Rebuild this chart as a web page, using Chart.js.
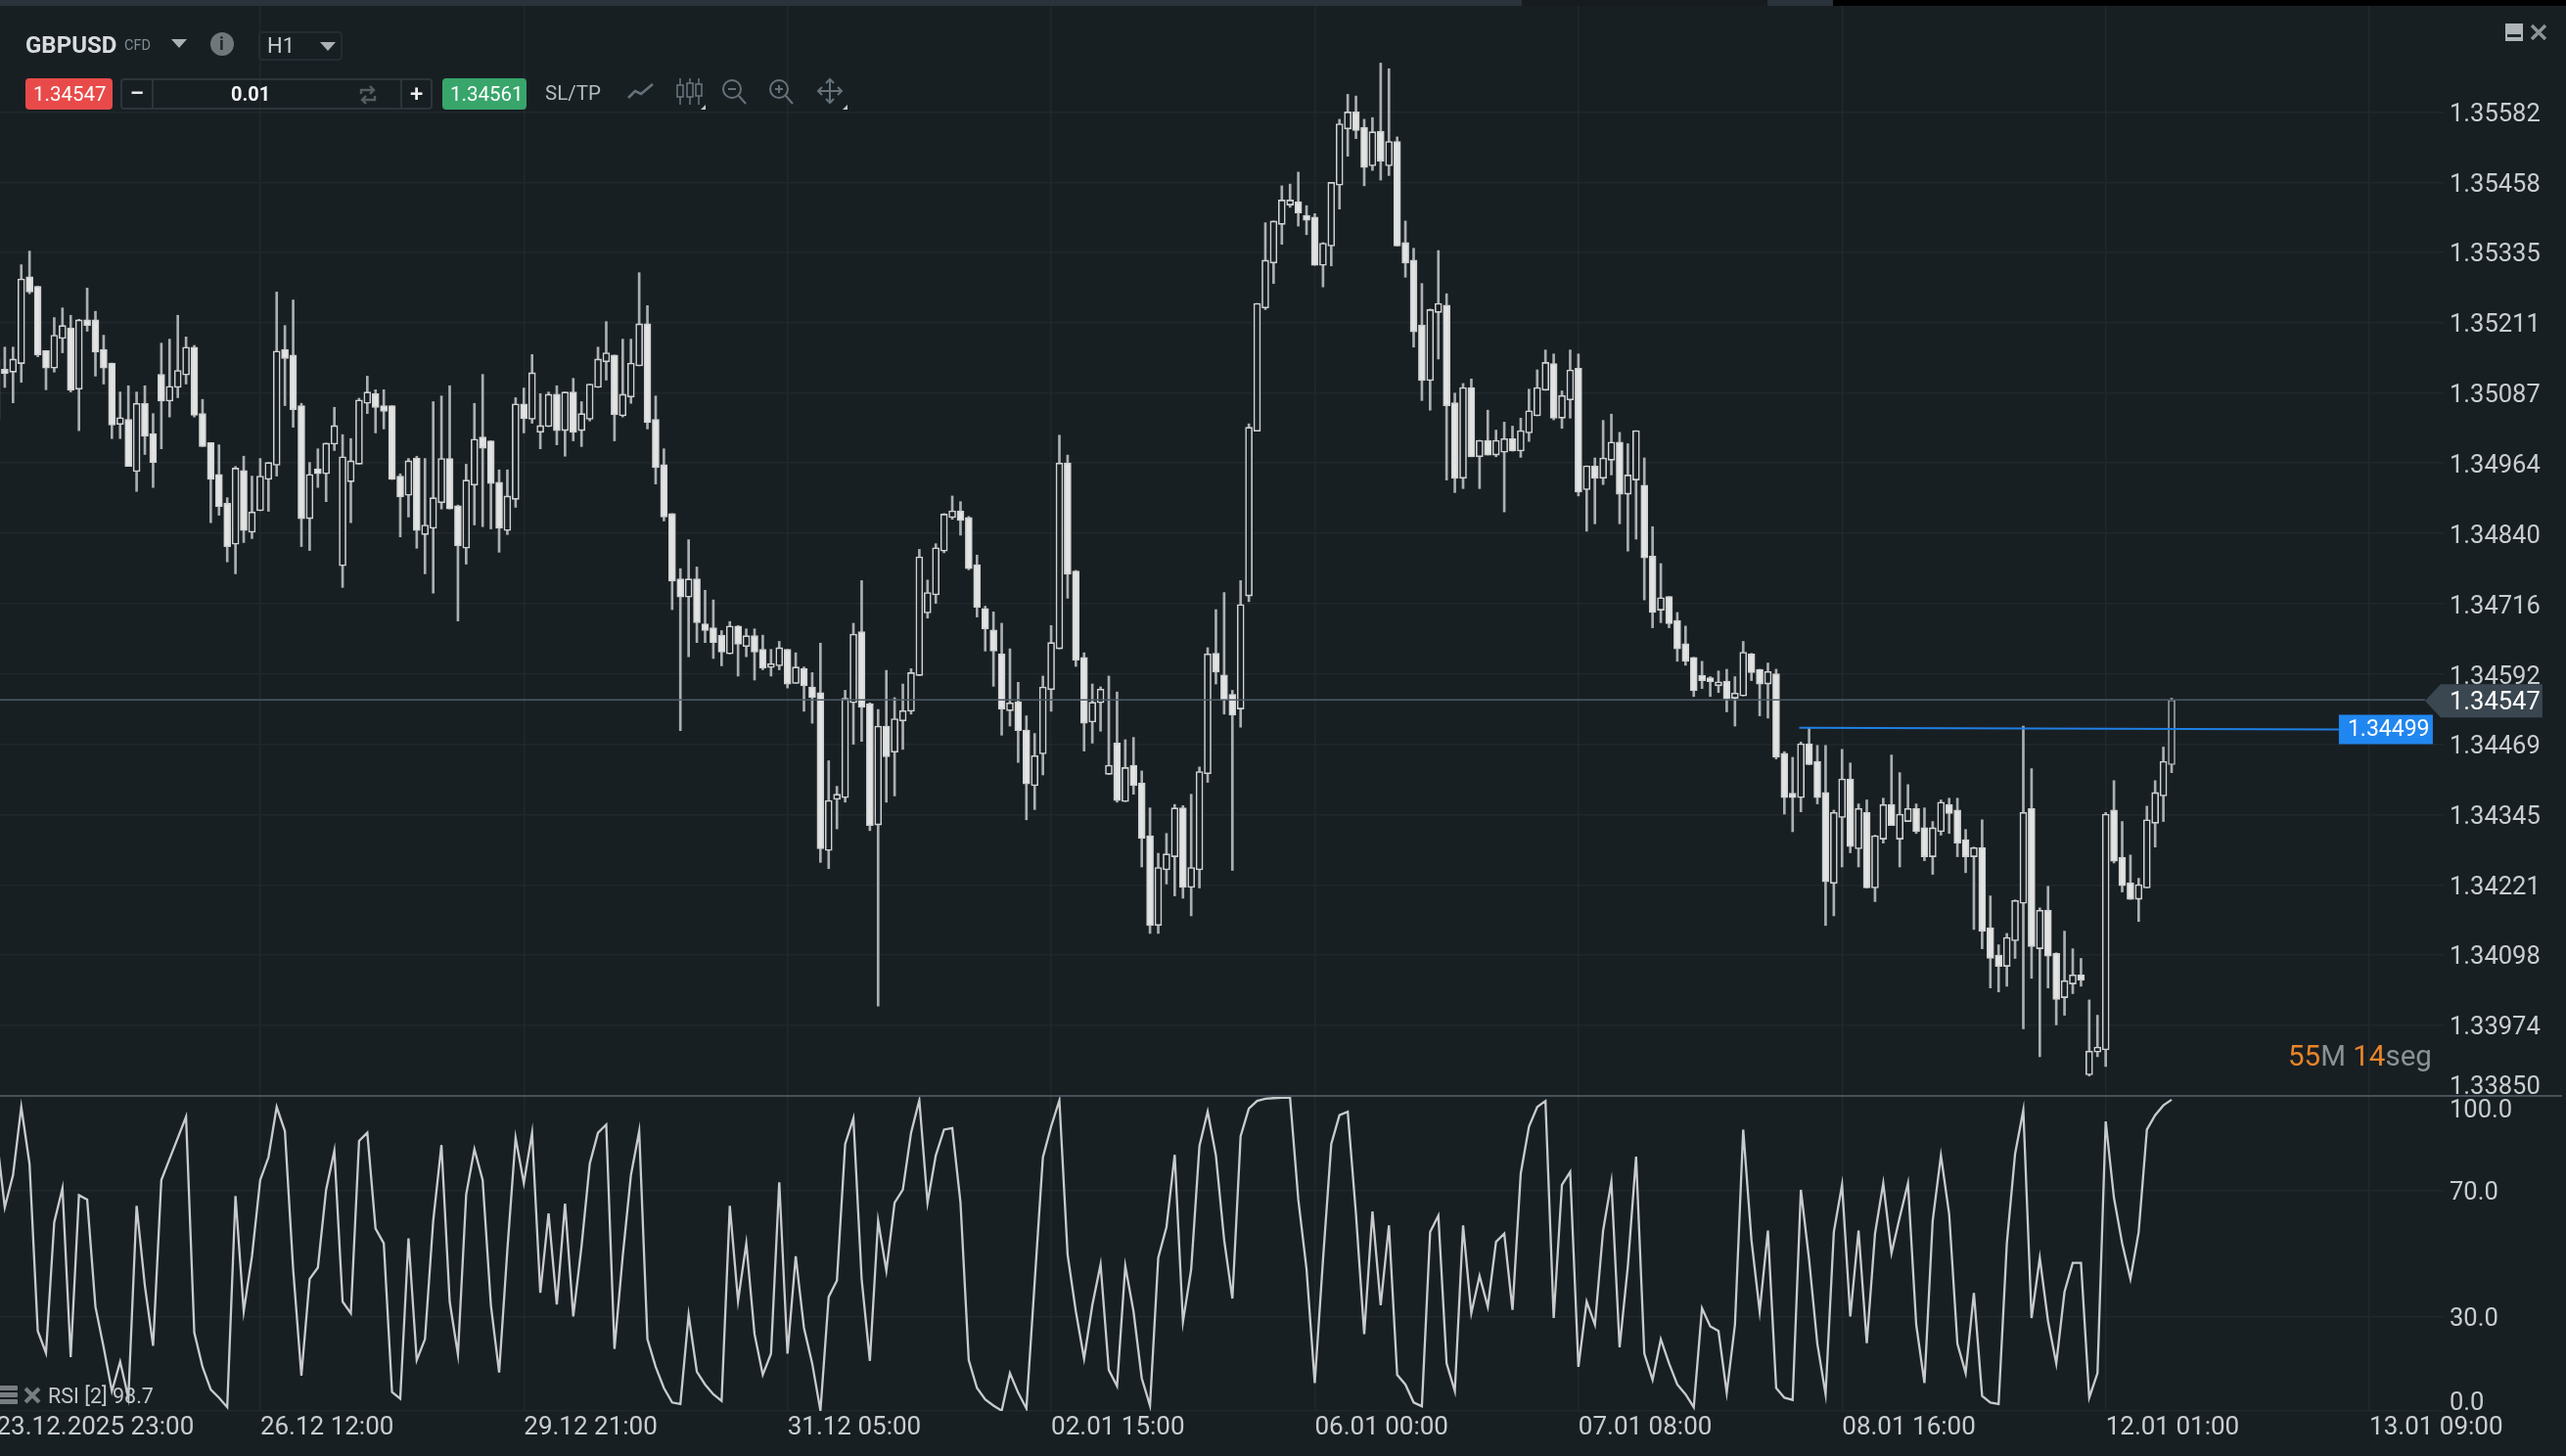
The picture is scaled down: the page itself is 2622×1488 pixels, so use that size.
<!DOCTYPE html>
<html>
<head>
<meta charset="utf-8">
<title>GBPUSD H1</title>
<script src="https://cdn.jsdelivr.net/npm/chart.js"></script>
<style>
    html, body { margin: 0; padding: 0; background: #181f23; width: 2622px; height: 1488px; overflow: hidden; font-family: Roboto, sans-serif; }
    #chart { position: absolute; left: -10px; top: 0; }
    .box { position: absolute; box-sizing: border-box; }
    .txt { position: absolute; white-space: nowrap; line-height: 1; }
    .tri { position: absolute; width: 0; height: 0; border-left: 8px solid transparent; border-right: 8px solid transparent; border-top: 9px solid #aab0b4; }
    svg { position: absolute; overflow: visible; }
</style>
</head>
<body>
<canvas id="chart" width="2632" height="1488"></canvas>

<!-- top strip -->
<div class="box" style="left:0;top:0;width:1555px;height:6px;background:#2a323c"></div>
<div class="box" style="left:1555px;top:0;width:251px;height:6px;background:#151b1f"></div>
<div class="box" style="left:1806px;top:0;width:67px;height:6px;background:#2a323c"></div>
<div class="box" style="left:1873px;top:0;width:749px;height:6px;background:#000"></div>

<!-- symbol row -->
<div class="txt" style="left:26px;top:34px;font-size:24px;font-weight:700;color:#d8dcde">GBPUSD</div>
<div class="txt" style="left:127px;top:40px;font-size:14.5px;color:#7f8c93">CFD</div>
<div class="tri" style="left:175px;top:40px"></div>
<div class="box" style="left:215px;top:33px;width:24px;height:24px;border-radius:12px;background:#70777b"></div>
<div class="txt" style="left:224px;top:36px;font-size:18px;font-weight:700;color:#20272b">i</div>
<div class="box" style="left:264px;top:32px;width:86px;height:30px;border:2px solid #242c32;border-radius:4px"></div>
<div class="txt" style="left:273px;top:36px;font-size:22px;color:#c8cccf">H1</div>
<div class="tri" style="left:327px;top:43px"></div>

<!-- order row -->
<div class="box" style="left:26px;top:80px;width:89px;height:32px;background:#e84a4a;border-radius:4px"></div>
<div class="txt" style="left:34px;top:86px;font-size:20.5px;color:#fff">1.34547</div>
<div class="box" style="left:123px;top:80px;width:319px;height:32px;border:2px solid #2c353b;border-radius:4px"></div>
<div class="box" style="left:155px;top:80px;width:2px;height:32px;background:#2c353b"></div>
<div class="box" style="left:409px;top:80px;width:2px;height:32px;background:#2c353b"></div>
<div class="txt" style="left:133px;top:85px;font-size:22px;font-weight:700;color:#e6e8e9">&#8211;</div>
<div class="txt" style="left:236px;top:86px;font-size:20px;font-weight:700;color:#f1f2f3">0.01</div>
<svg style="left:366px;top:85px" width="20" height="24" viewBox="0 0 20 24" fill="none" stroke="#555d62" stroke-width="2.4">
    <path d="M3 11V7h13M12 3l4 4-4 4M17 13v4H4M8 13l-4 4 4 4"/>
</svg>
<div class="txt" style="left:419px;top:84px;font-size:24px;font-weight:500;color:#eef0f1">+</div>
<div class="box" style="left:452px;top:80px;width:86px;height:32px;background:#38a56b;border-radius:4px"></div>
<div class="txt" style="left:460px;top:86px;font-size:20.5px;color:#fff">1.34561</div>
<div class="txt" style="left:557px;top:85px;font-size:20.5px;color:#b4babd">SL/TP</div>

<svg style="left:640px;top:80px" width="240" height="36" viewBox="0 0 240 36" fill="none" stroke="#66727a" stroke-width="2">
    <path d="M2 20l7-7 6 3 12-10" stroke-width="2.6"/>
    <path d="M55 0v7M55 19v8M65 0v5M65 19v8M74 0v6M74 18v9" stroke-width="1.6"/>
    <rect x="52" y="7" width="6" height="12" stroke-width="1.6"/><rect x="62" y="5" width="6" height="14" stroke-width="1.6"/><rect x="71" y="6" width="6" height="12" stroke-width="1.6"/>
    <circle cx="108" cy="11" r="9"/><path d="M104 11h8M115 18l7 8"/>
    <circle cx="156" cy="11" r="9"/><path d="M152 11h8M156 7v8M163 18l7 8"/>
    <path d="M208 1v24M196 13h24M204 5l4-4 4 4M204 21l4 4 4-4M200 9l-4 4 4 4M216 9l4 4-4 4"/>
    <path d="M81 32l-5 0 5-5z" fill="#c2c7ca" stroke="none"/>
    <path d="M226 32l-5 0 5-5z" fill="#c2c7ca" stroke="none"/>
</svg>

<!-- window buttons -->
<div class="box" style="left:2560px;top:24px;width:18px;height:18px;background:#aeb4b8"></div>
<div class="box" style="left:2562px;top:35px;width:14px;height:3px;background:#20272b"></div>
<svg style="left:2586px;top:25px" width="16" height="16" viewBox="0 0 16 16" stroke="#8d9396" stroke-width="3.4">
    <path d="M1 1l14 14M15 1L1 15"/>
</svg>

<!-- countdown -->
<div class="txt" style="left:2338px;top:1065px;font-size:29.5px;color:#8b9296"><span style="color:#e8852a">55</span>M <span style="color:#e8852a">14</span>seg</div>

<!-- RSI pane label -->
<svg style="left:-2px;top:1416px" width="22" height="20" viewBox="0 0 22 20" fill="#777d80">
    <rect x="0" y="0" width="20" height="5" rx="1"/><rect x="0" y="7" width="20" height="5" rx="1"/><rect x="0" y="14" width="20" height="5" rx="1"/>
</svg>
<svg style="left:25px;top:1418px" width="16" height="16" viewBox="0 0 16 16" stroke="#777d80" stroke-width="4">
    <path d="M1 1l14 14M15 1L1 15"/>
</svg>
<div class="txt" style="left:49px;top:1416px;font-size:21.5px;color:#c3c7c9">RSI [2] 98.7</div>

<script>
    // values are in price points (1 point = 0.00001)
    const highs = [
        135156,135168,135168,135313,135337,135275,135162,135220,135237,135224,
        135217,135272,135231,135189,135140,135089,135100,135089,135100,135051,
        135175,135182,135224,135186,135171,135076,135000,134996,134903,134958,
        134976,134941,134972,134965,135265,135206,135251,135069,134965,134989,
        134999,135062,135014,135007,135078,135117,135093,135093,135065,134945,
        134972,134976,134972,135072,135082,135100,134890,134962,135069,135120,
        135003,134952,134952,135079,135096,135155,135086,135089,135100,135089,
        135113,135072,135103,135168,135213,135154,135182,135182,135299,135241,
        135082,134989,134875,134778,134829,134781,134740,134723,134669,134685,
        134678,134672,134672,134661,134636,134650,134636,134630,134605,134595,
        134647,134440,134395,134564,134682,134757,134542,134530,134599,134551,
        134575,134602,134812,134758,134822,134875,134906,134896,134870,134802,
        134712,134702,134682,134637,134578,134519,134488,134589,134678,135013,
        134978,134775,134630,134575,134570,134589,134561,134477,134481,134422,
        134357,134277,134312,134363,134361,134381,134429,134639,134706,134736,
        134564,134757,135033,135245,135387,135390,135452,135455,135476,135417,
        135403,135352,135458,135569,135613,135610,135569,135572,135668,135658,
        135538,135390,135342,135280,135235,135338,135262,135087,135104,135112,
        135004,135057,135022,135036,135029,135043,135094,135128,135163,135156,
        135091,135163,135156,134959,134973,135039,135050,135018,134998,135021,
        134973,134852,134787,134729,134701,134677,134622,134615,134588,134598,
        134601,134588,134650,134629,134601,134612,134601,134456,134446,134473,
        134498,134467,134467,134353,134460,134436,134364,134371,134309,134374,
        134450,134419,134398,134364,134357,134333,134371,134374,134374,134319,
        134288,134336,134202,134116,134136,134195,134501,134426,134181,134219,
        134102,134140,134109,134092,134019,133992,134349,134405,134333,134274,
        134233,134360,134405,134464,134550
    ];
    const opens = [
        135041,135129,135124,135139,135292,135275,135162,135131,135183,135202,
        135094,135216,135216,135164,135140,135032,135041,134949,135069,135016,
        135120,135073,135097,135119,135168,135051,135000,134944,134893,134821,
        134951,134842,134880,134935,134960,135164,135154,135065,134866,134954,
        134945,134997,134783,134931,134962,135069,135086,135065,135065,134941,
        134907,134973,134838,134849,134894,134972,134889,134814,134925,135010,
        135003,134930,134845,134900,135068,135041,135018,135028,135085,135021,
        135089,135021,135041,135097,135142,135154,135047,135080,135135,135209,
        135041,134961,134875,134760,134728,134760,134681,134674,134661,134628,
        134677,134641,134660,134636,134604,134607,134636,134576,134602,134570,
        134560,134282,134372,134375,134542,134667,134540,134327,134501,134455,
        134510,134527,134590,134700,134732,134809,134868,134880,134868,134785,
        134708,134670,134628,134528,134544,134494,134396,134452,134565,134637,
        134964,134774,134622,134508,134542,134416,134471,134368,134432,134401,
        134308,134150,134248,134271,134357,134217,134248,134417,134629,134591,
        134557,134531,134730,135020,135237,135316,135384,135418,135424,135400,
        135397,135312,135346,135453,135552,135582,135555,135487,135548,135487,
        135530,135352,135321,135207,135109,135229,135242,135070,134937,135097,
        134975,135004,134978,134983,135007,134985,135017,135047,135092,135139,
        135043,135075,135131,134917,134959,134937,134969,135001,134909,134934,
        134925,134800,134705,134729,134687,134646,134622,134590,134586,134572,
        134580,134550,134554,134628,134601,134575,134593,134453,134383,134375,
        134470,134439,134384,134224,134340,134408,134285,134349,134216,134302,
        134363,134302,134333,134356,134322,134271,134315,134363,134353,134301,
        134271,134287,134146,134098,134078,134123,134189,134356,134109,134177,
        134101,134023,134047,134063,133887,133927,133931,134353,134270,134225,
        134196,134216,134330,134378,134433
    ];
    const closes = [
        135147,135121,135147,135288,135265,135154,135131,135189,135206,135092,
        135216,135206,135159,135131,135031,135044,134958,135069,135011,134965,
        135073,135099,135127,135168,135048,134993,134935,134887,134817,134955,
        134845,134878,134941,134965,135161,135148,135058,134866,134944,134945,
        134999,135030,134975,134968,135075,135089,135062,135055,134935,134904,
        134968,134845,134855,134903,134972,134883,134818,134934,135006,134990,
        134928,134849,134906,135068,135042,135123,135030,135085,135021,135089,
        135018,135051,135103,135147,135158,135049,135085,135140,135209,135035,
        134956,134869,134756,134728,134760,134683,134669,134648,134631,134677,
        134645,134660,134631,134603,134611,134639,134575,134605,134572,134551,
        134285,134370,134381,134550,134663,134534,134326,134501,134447,134514,
        134528,134595,134799,134736,134815,134874,134880,134863,134778,134710,
        134672,134633,134531,134542,134493,134399,134449,134570,134648,134964,
        134768,134617,134506,134543,134566,134432,134370,134428,134396,134303,
        134150,134252,134276,134357,134217,134252,134421,134628,134596,134547,
        134520,134715,135027,135245,135321,135390,135427,135427,135404,135391,
        135312,135351,135458,135561,135582,135549,135484,135547,135495,135530,
        135346,135316,135195,135109,135234,135245,135065,134937,135097,134975,
        135004,134978,135004,135007,134985,135021,135056,135097,135141,135043,
        135083,135128,134913,134959,134937,134973,135001,134909,134943,135021,
        134797,134701,134727,134681,134637,134615,134563,134581,134579,134579,
        134549,134559,134631,134595,134575,134597,134446,134375,134375,134470,
        134433,134375,134227,134349,134408,134289,134356,134216,134308,134363,
        134326,134346,134356,134315,134271,134322,134367,134347,134295,134271,
        134287,134140,134092,134078,134129,134194,134349,134113,134177,134096,
        134020,134053,134063,134054,133929,133936,134346,134263,134220,134196,
        134222,134336,134384,134439,134547
    ];
    const lows = [
        135030,135097,135070,135106,135262,135151,135093,135124,135158,135089,
        135021,135196,135117,135103,135007,135007,134958,134914,134979,134921,
        134989,135045,135079,135103,135045,134993,134859,134872,134790,134769,
        134824,134831,134880,134879,134941,135065,135027,134817,134810,134921,
        134896,134986,134745,134859,134962,135051,135017,135024,134935,134834,
        134869,134814,134769,134735,134883,134883,134686,134786,134855,134852,
        134848,134807,134838,134886,135017,135034,134989,135028,134996,134976,
        135003,134993,135038,135097,135110,135003,135045,135069,135135,135024,
        134927,134862,134706,134493,134623,134648,134648,134620,134607,134628,
        134589,134623,134582,134600,134589,134600,134568,134576,134527,134506,
        134261,134250,134320,134367,134469,134474,134317,134008,134367,134378,
        134460,134522,134590,134691,134717,134806,134865,134837,134776,134693,
        134633,134571,134485,134501,134437,134336,134354,134415,134527,134637,
        134726,134606,134457,134471,134492,134416,134367,134368,134381,134253,
        134136,134136,134223,134202,134198,134167,134216,134402,134575,134522,
        134247,134499,134720,135020,135234,135280,135349,135414,135381,135366,
        135312,135274,135311,135411,135504,135535,135452,135479,135462,135470,
        135346,135291,135168,135074,135057,135147,134934,134912,134919,134975,
        134919,134978,134975,134878,134985,134974,135002,135047,135092,135040,
        135025,135043,134906,134844,134857,134926,134943,134857,134809,134830,
        134723,134674,134683,134674,134615,134608,134553,134567,134553,134560,
        134526,134501,134554,134581,134519,134515,134443,134346,134315,134350,
        134433,134364,134150,134167,134253,134278,134253,134216,134192,134295,
        134326,134253,134333,134312,134264,134240,134309,134312,134271,134243,
        134143,134109,134040,134033,134043,134092,133968,134057,133919,134040,
        133975,133992,134030,134043,133885,133919,133902,134260,134209,134196,
        134157,134216,134288,134333,134419
    ];
    const rsiValues = [
        87.2,64.6,74.9,96.5,78.5,25.4,18.4,59.9,70.7,17.1,
        68.5,67.1,33.1,20.2,6.3,15.6,4.2,65.1,39.8,20.7,
        73.3,80.0,86.7,93.4,24.9,14.0,6.8,4.2,1.2,68.2,
        31.6,49.1,73.3,80.5,96.5,88.8,45.0,11.2,41.9,45.5,
        70.2,82.6,34.7,31.0,85.7,88.3,57.9,53.2,6.0,3.9,
        54.8,16.1,22.8,60.4,84.4,34.7,17.9,68.7,83.1,73.3,
        33.6,12.2,51.2,86.7,72.3,88.3,37.5,62.7,33.8,65.8,
        30.0,52.2,78.5,88.3,90.9,19.7,49.1,74.9,88.8,22.8,
        14.0,7.3,2.7,2.2,30.5,12.5,8.4,5.3,3.2,65.1,
        34.9,53.2,24.4,11.5,18.2,72.6,18.2,49.1,26.4,15.1,
        0.1,36.2,41.4,84.7,92.9,41.9,15.9,60.4,44.5,66.1,
        70.2,88.3,98.6,66.1,81.1,89.3,89.8,66.1,16.1,7.3,
        3.7,1.7,0.1,12.0,5.8,0.8,40.8,80.5,90.3,98.6,
        49.6,31.6,16.6,33.6,46.5,13.0,7.9,46.0,31.6,10.4,
        1.7,48.6,58.4,81.3,28.3,45.0,84.1,95.0,81.1,54.3,
        35.7,87.2,96.0,98.4,99.1,99.3,99.4,99.4,67.1,45.0,
        8.9,48.0,84.7,93.9,95.0,62.5,24.4,63.3,33.6,58.9,
        11.5,8.4,2.7,1.5,56.8,62.0,15.1,6.3,58.9,31.0,
        42.9,33.1,53.7,56.3,32.1,75.4,90.3,96.5,98.4,29.5,
        71.8,75.9,14.0,34.7,27.4,57.3,72.8,20.2,46.0,80.7,
        18.2,9.9,22.8,15.1,8.4,5.3,1.2,32.6,26.9,25.4,
        5.8,27.4,89.3,54.3,31.6,57.3,7.3,4.2,3.5,70.2,
        48.0,21.3,5.3,56.8,71.8,30.0,57.3,21.5,56.3,72.3,
        50.1,61.5,72.3,27.4,8.9,60.4,81.1,62.5,21.3,12.0,
        37.5,4.8,2.7,2.2,53.2,81.6,95.5,29.5,48.6,28.5,
        15.1,37.8,47.0,47.0,4.2,12.0,91.9,67.7,53.2,41.9,
        56.8,89.3,93.9,97.0,98.8
    ];

    const priceTicks = [135582,135458,135335,135211,135087,134964,134840,134716,134592,134469,134345,134221,134098,133974,133850];
    const rsiTicks = [100,70,30,0];
    const dateTickIndex = [0,32,64,96,128,160,192,224,256,288];
    const dateLabels = ['23.12.2025 23:00','26.12 12:00','29.12 21:00','31.12 05:00','02.01 15:00','06.01 00:00','07.01 08:00','08.01 16:00','12.01 01:00','13.01 09:00'];

    const currentPrice = 134547;
    const lineEndIndex = 294.75;
    const levelIndex = [218.8, 284.3];
    const levelPrice = [134498, 134495];
    const levelLabel = '1.34499';

    const BG = '#181f23';
    const GRID = '#20282c';
    const LABEL = '#c9cdcf';
    const FONT = 'Roboto';
    const LABEL_DROP = 3;

    const fmtPrice = v => (v / 100000).toFixed(5);

    // the two outer labels of each pane sit inside the pane instead of on their tick
    const edgeLabels = [
        { axis: 'y', value: 133850, text: fmtPrice(133850), shift: -11 },
        { axis: 'rsi', value: 100, text: '100.0', shift: 13 },
        { axis: 'rsi', value: 0, text: '0.0', shift: -10 }
    ];

    const overlayPlugin = {
        id: 'overlay',
        afterDraw(chart) {
            const ctx = chart.ctx;
            const area = chart.chartArea;
            const py = chart.scales.y;
            const px = chart.scales.x;
            const textX = area.right + 6;

            ctx.save();

            // pane separator
            const sepY = py.getPixelForValue(133850);
            ctx.fillStyle = '#46515a';
            ctx.fillRect(0, sepY - 1, area.right + 121, 2);

            ctx.font = '25.5px ' + FONT;
            ctx.textBaseline = 'middle';
            ctx.textAlign = 'left';
            ctx.fillStyle = LABEL;
            edgeLabels.forEach(l => {
                ctx.fillText(l.text, textX, chart.scales[l.axis].getPixelForValue(l.value) + l.shift + LABEL_DROP);
            });

            // current price tag
            const curY = py.getPixelForValue(currentPrice) + 1;
            const tipX = px.getPixelForValue(lineEndIndex);
            ctx.fillStyle = '#3a4750';
            ctx.beginPath();
            ctx.moveTo(tipX, curY);
            ctx.lineTo(tipX + 16, curY - 17);
            ctx.lineTo(tipX + 120, curY - 17);
            ctx.lineTo(tipX + 120, curY + 17);
            ctx.lineTo(tipX + 16, curY + 17);
            ctx.closePath();
            ctx.fill();
            ctx.fillStyle = '#ffffff';
            ctx.fillText(fmtPrice(currentPrice), textX, curY + LABEL_DROP - 1);

            // level tag
            const lvlX = px.getPixelForValue(levelIndex[1]);
            const lvlY = py.getPixelForValue(levelPrice[1]);
            ctx.fillStyle = '#2187f0';
            ctx.fillRect(lvlX, lvlY - 15, 96, 30);
            ctx.fillStyle = '#ffffff';
            ctx.font = '23px ' + FONT;
            ctx.fillText(levelLabel, lvlX + 9, lvlY + 1);

            ctx.restore();
        }
    };

    const candleIndex = highs.map((h, i) => i);

    new Chart(document.getElementById('chart').getContext('2d'), {
        type: 'bar',
        data: {
            datasets: [{
                label: 'wicks',
                data: candleIndex.map(i => ({ x: i, y: [lows[i], highs[i]] })),
                backgroundColor: '#abafb1',
                barThickness: 2,
                grouped: false,
                order: 4
            }, {
                label: 'bodies',
                data: candleIndex.map(i => ({ x: i, y: [opens[i], closes[i]] })),
                backgroundColor: c => closes[c.dataIndex] < opens[c.dataIndex] ? '#e2e3e3' : BG,
                borderColor: c => c.dataIndex === highs.length - 1 ? '#a9adaf' : '#d0d2d2',
                borderWidth: 1.6,
                borderSkipped: false,
                barThickness: 7,
                grouped: false,
                order: 3
            }, {
                type: 'line',
                label: 'level',
                data: levelIndex.map((x, i) => ({ x: x, y: levelPrice[i] })),
                borderColor: '#1f7fe3',
                borderWidth: 2,
                pointRadius: 0,
                order: 1
            }, {
                type: 'line',
                label: 'current',
                data: [{ x: -1, y: currentPrice }, { x: lineEndIndex, y: currentPrice }],
                borderColor: '#4d5a63',
                borderWidth: 1.6,
                pointRadius: 0,
                order: 2
            }, {
                type: 'line',
                label: 'RSI',
                yAxisID: 'rsi',
                data: candleIndex.map(i => ({ x: i, y: rsiValues[i] })),
                borderColor: '#c8cbcc',
                borderWidth: 2.3,
                pointRadius: 0,
                tension: 0,
                order: 0
            }]
        },
        options: {
            responsive: false,
            animation: false,
            devicePixelRatio: 1,
            layout: { padding: 0 },
            plugins: { legend: { display: false }, tooltip: { enabled: false } },
            scales: {
                x: {
                    type: 'linear',
                    offset: false,
                    min: -0.77,
                    max: 297.02,
                    afterBuildTicks: s => { s.ticks = dateTickIndex.map(v => ({ value: v })); },
                    afterFit: s => { s.height = 46; s.paddingLeft = 0; s.paddingRight = 0; },
                    grid: { color: GRID, lineWidth: 1.5, offset: false, drawTicks: false },
                    border: { display: false },
                    ticks: {
                        autoSkip: false,
                        maxRotation: 0,
                        align: 'start',
                        padding: 2,
                        color: LABEL,
                        font: { family: FONT, size: 26 },
                        callback: (v, i) => dateLabels[i]
                    }
                },
                y: {
                    position: 'right',
                    stack: 'panes',
                    stackWeight: 1120,
                    min: 133850,
                    max: 135779,
                    afterBuildTicks: s => { s.ticks = priceTicks.map(v => ({ value: v })); },
                    afterFit: s => { s.width = 125; s.paddingTop = 0; s.paddingBottom = 0; },
                    grid: { color: GRID, lineWidth: 1.5, drawTicks: false },
                    border: { display: false },
                    ticks: {
                        autoSkip: false,
                        padding: 6,
                        labelOffset: LABEL_DROP,
                        color: LABEL,
                        font: { family: FONT, size: 25.5 },
                        callback: v => v === 133850 ? '' : fmtPrice(v)
                    }
                },
                rsi: {
                    position: 'right',
                    stack: 'panes',
                    stackWeight: 322,
                    min: 0,
                    max: 100,
                    afterBuildTicks: s => { s.ticks = rsiTicks.map(v => ({ value: v })); },
                    afterFit: s => { s.width = 125; s.paddingTop = 0; s.paddingBottom = 0; },
                    grid: { color: GRID, lineWidth: 1.5, drawTicks: false },
                    border: { display: false },
                    ticks: {
                        autoSkip: false,
                        padding: 6,
                        labelOffset: LABEL_DROP,
                        color: LABEL,
                        font: { family: FONT, size: 25.5 },
                        callback: v => (v === 100 || v === 0) ? '' : v.toFixed(1)
                    }
                }
            }
        },
        plugins: [overlayPlugin]
    });
</script>
</body>
</html>
